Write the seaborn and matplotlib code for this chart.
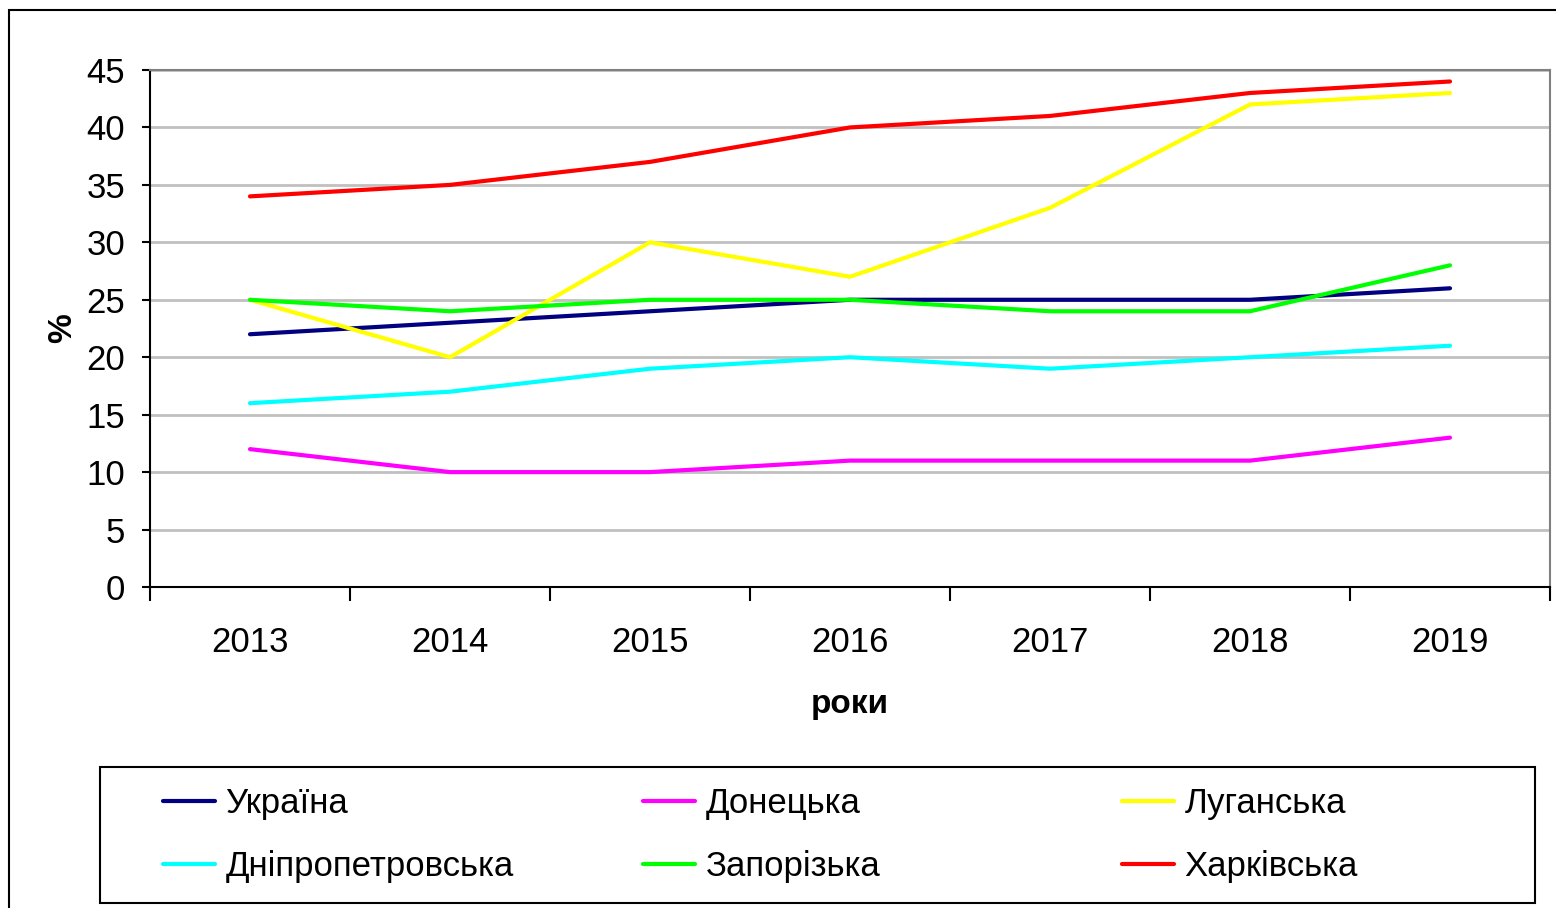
import matplotlib
matplotlib.use("Agg")
import matplotlib.pyplot as plt
import matplotlib.patches as mpatches
from matplotlib.ticker import MultipleLocator, FixedLocator, NullFormatter
import seaborn as sns
import pandas as pd

years = [2013, 2014, 2015, 2016, 2017, 2018, 2019]
ukraine = [22, 23, 24, 25, 25, 25, 26]
donetska = [12, 10, 10, 11, 11, 11, 13]
luhanska = [25, 20, 30, 27, 33, 42, 43]
dnipro = [16, 17, 19, 20, 19, 20, 21]
zaporizka = [25, 24, 25, 25, 24, 24, 28]
kharkivska = [34, 35, 37, 40, 41, 43, 44]

names = ["Україна", "Донецька", "Луганська", "Дніпропетровська", "Запорізька", "Харківська"]
series = [ukraine, donetska, luhanska, dnipro, zaporizka, kharkivska]
colors = ["#000080", "#FF00FF", "#FFFF00", "#00FFFF", "#00FF00", "#FF0000"]

rows = []
for n, vals in zip(names, series):
    for y, v in zip(years, vals):
        rows.append({"year": y, "value": v, "region": n})
df = pd.DataFrame(rows)

sns.set_theme(style="white")
FONT = ["Liberation Sans Narrow", "Liberation Sans", "DejaVu Sans"]
plt.rcParams["font.family"] = FONT
plt.rcParams["text.color"] = "black"
plt.rcParams["axes.labelcolor"] = "black"

W, H = 1556, 908
fig = plt.figure(figsize=(W / 100, H / 100), dpi=100)
fig.patch.set_facecolor("white")

ax = fig.add_axes([150 / W, 1 - 587 / H, 1400 / W, 517 / H])
sns.lineplot(data=df, x="year", y="value", hue="region", hue_order=names,
             palette=dict(zip(names, colors)), linewidth=3, ax=ax, legend=False)

ax.set_xlim(2012.5, 2019.5)
ax.set_ylim(0, 45)
ax.yaxis.set_major_locator(MultipleLocator(5))
ax.set_xticks(years)
ax.set_xticklabels([str(y) for y in years])
ax.xaxis.set_minor_locator(FixedLocator([y + 0.5 for y in range(2012, 2020)]))
ax.xaxis.set_minor_formatter(NullFormatter())
ax.tick_params(axis="x", which="major", length=0, pad=28, labelsize=25, colors="black")
ax.tick_params(axis="x", which="minor", length=10, width=1.5, direction="out", bottom=True, color="black")
ax.tick_params(axis="y", which="major", length=6, width=1.5, direction="out", left=True, pad=12, labelsize=25, colors="black")

ax.grid(axis="y", color="#c0c0c0", linewidth=2)
ax.set_axisbelow(True)
for s in ["left", "bottom"]:
    ax.spines[s].set_color("black")
    ax.spines[s].set_linewidth(1.5)
for s in ["top", "right"]:
    ax.spines[s].set_color("#808080")
    ax.spines[s].set_linewidth(1.5)

ax.set_xlabel("роки", fontsize=24, fontweight="bold", labelpad=22, color="black")
ax.set_ylabel("%", fontsize=24, fontweight="bold", labelpad=6, color="black")

# outer border
fig.patches.append(mpatches.Rectangle((9 / W, -0.05), 1.1, 1 - 10 / H + 0.05,
                                      transform=fig.transFigure, fill=False,
                                      edgecolor="black", linewidth=1.5))
# legend frame
fig.patches.append(mpatches.Rectangle((100 / W, 1 - 903 / H), 1435 / W, 136 / H,
                                      transform=fig.transFigure, fill=False,
                                      edgecolor="black", linewidth=1.5))

lines = ax.lines[:6]
cols = [(0, 3), (1, 4), (2, 5)]
xstarts = [163, 643, 1122]
for (i, j), xs in zip(cols, xstarts):
    leg = fig.legend([lines[i], lines[j]], [names[i], names[j]],
                     loc="center left", bbox_to_anchor=(xs / W, 1 - 835 / H),
                     frameon=False, fontsize=25, handlelength=1.5,
                     handletextpad=0.3, labelspacing=0.85, borderpad=0,
                     borderaxespad=0)
    for t in leg.get_texts():
        t.set_color("black")

fig.savefig("out.png", dpi=100)
